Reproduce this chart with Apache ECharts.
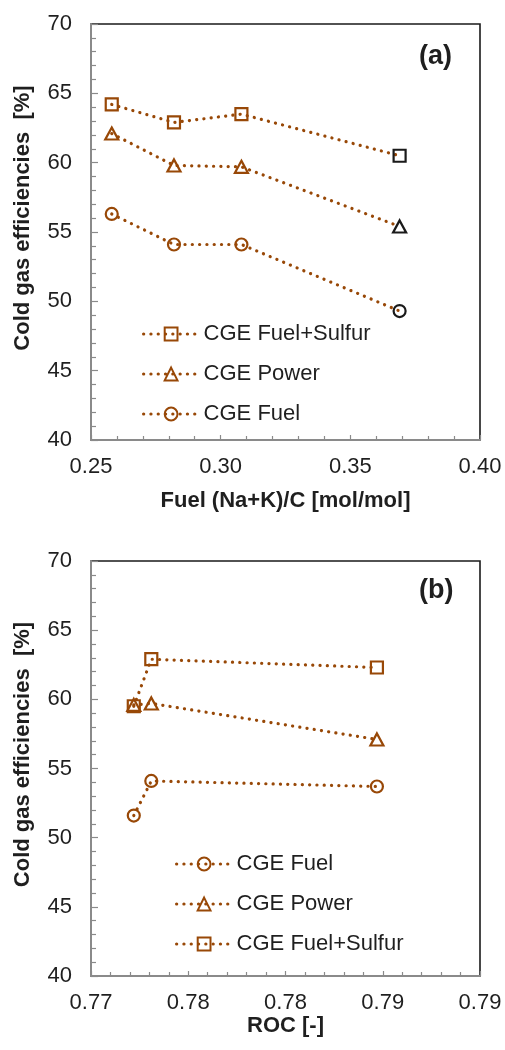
<!DOCTYPE html>
<html>
<head>
<meta charset="utf-8">
<script src="https://cdn.jsdelivr.net/npm/echarts@6/dist/echarts.min.js"></script>
<style>
  html, body { margin: 0; padding: 0; background: #fff; }
  #chart { width: 505px; height: 1050px; }
</style>
</head>
<body>
<div id="chart"></div>
<script>
// Panel (a): cold gas efficiency vs fuel (Na+K)/C
const ratioNaKC = [0.258, 0.282, 0.308, 0.369];
const cgeFuelSulfurA = [64.2, 62.9, 63.5, 60.5];
const cgePowerA = [62.1, 59.8, 59.7, 55.4];
const cgeFuelA = [56.3, 54.1, 54.1, 49.3];
const ticksA = ['0.25', '0.30', '0.35', '0.40'];

// Panel (b): cold gas efficiency vs ROC
const roc = [0.7722, 0.7731, 0.7847];
const cgeFuelB = [51.6, 54.1, 53.7];
const cgePowerB = [59.6, 59.7, 57.1];
const cgeFuelSulfurB = [59.5, 62.9, 62.3];
const ticksB = ['0.77', '0.78', '0.78', '0.79', '0.79'];

const yTicks = ['40', '45', '50', '55', '60', '65', '70'];

const BROWN = '#984807';
const FONT = '"Liberation Sans", Arial, sans-serif';
const TXT = '#1f1f1f';
const AXIS_GREY = '#8a8a8a';
const DOTTED = { color: BROWN, width: 3.2, type: [0.1, 7.2], cap: 'round' };

const symbols = {
  'CGE Fuel+Sulfur': { symbol: 'rect', size: 12 },
  'CGE Power': { symbol: 'triangle', size: [13, 12] },
  'CGE Fuel': { symbol: 'circle', size: 12 }
};

function pairs(xs, ys) { return xs.map((x, i) => [x, ys[i]]); }

function makeSeries(name, xs, ys, gridIdx, blackLast) {
  const s = symbols[name];
  const data = pairs(xs, ys).map((p, i) => {
    if (blackLast && i === xs.length - 1) {
      return { value: p, itemStyle: { borderColor: '#1a1a1a' } };
    }
    return { value: p };
  });
  return {
    name: name,
    type: 'line',
    xAxisIndex: gridIdx,
    yAxisIndex: gridIdx,
    data: data,
    symbol: s.symbol,
    symbolSize: s.size,
    showAllSymbol: true,
    animation: false,
    lineStyle: DOTTED,
    itemStyle: { color: 'rgba(0,0,0,0)', borderColor: BROWN, borderWidth: 2.2 },
    emphasis: { disabled: true }
  };
}

function xAxisDef(gridIdx, min, max, interval, labels, name, nameGap) {
  return {
    type: 'value',
    gridIndex: gridIdx,
    min: min, max: max, interval: interval,
    name: name,
    nameLocation: 'middle',
    nameGap: nameGap,
    nameTextStyle: { fontFamily: FONT, fontSize: 22, fontWeight: 'bold', color: TXT },
    axisLine: { show: true, onZero: false, lineStyle: { color: AXIS_GREY, width: 2 } },
    axisTick: { show: true, inside: true, length: 5, lineStyle: { color: AXIS_GREY, width: 1.2 } },
    minorTick: { show: true, splitNumber: 5, length: 4, lineStyle: { color: AXIS_GREY, width: 1.2 } },
    splitLine: { show: false },
    axisLabel: {
      fontFamily: FONT, fontSize: 22, color: TXT, margin: 16,
      formatter: v => labels[Math.round((v - min) / interval)]
    }
  };
}

function yAxisDef(gridIdx) {
  return {
    type: 'value',
    gridIndex: gridIdx,
    min: 40, max: 70, interval: 5,
    name: 'Cold gas efficiencies  [%]',
    nameLocation: 'middle',
    nameGap: 57,
    nameRotate: 90,
    nameTextStyle: { fontFamily: FONT, fontSize: 22, fontWeight: 'bold', color: TXT, padding: [0, 0, 0, 28] },
    axisLine: { show: true, lineStyle: { color: AXIS_GREY, width: 2 } },
    axisTick: { show: true, inside: true, length: 7, lineStyle: { color: AXIS_GREY, width: 1.2 } },
    minorTick: { show: true, splitNumber: 5, length: 5, lineStyle: { color: AXIS_GREY, width: 1.2 } },
    splitLine: { show: false },
    axisLabel: {
      fontFamily: FONT, fontSize: 22, color: TXT, margin: 19,
      formatter: v => yTicks[Math.round((v - 40) / 5)]
    }
  };
}

function legendDef(names, left, top) {
  return {
    orient: 'vertical',
    left: left,
    top: top,
    data: names,
    itemWidth: 55,
    itemHeight: 16,
    itemGap: 18,
    selectedMode: false,
    lineStyle: DOTTED,
    textStyle: { fontFamily: FONT, fontSize: 22, color: TXT, lineHeight: 22 }
  };
}

const chart = echarts.init(document.getElementById('chart'), null, { renderer: 'canvas' });
chart.setOption({
  backgroundColor: '#fff',
  animation: false,
  title: [
    { text: '(a)', left: 414, top: 38, textStyle: { fontFamily: FONT, fontSize: 27, fontWeight: 'bold', color: TXT } },
    { text: '(b)', left: 414, top: 572, textStyle: { fontFamily: FONT, fontSize: 27, fontWeight: 'bold', color: TXT } }
  ],
  grid: [
    { left: 91, right: 25, top: 24, bottom: 610, show: true, borderColor: '#1a1a1a', borderWidth: 1.6, backgroundColor: 'transparent' },
    { left: 91, right: 25, top: 561, bottom: 74, show: true, borderColor: '#1a1a1a', borderWidth: 1.6, backgroundColor: 'transparent' }
  ],
  xAxis: [
    xAxisDef(0, 0.25, 0.40, 0.05, ticksA, 'Fuel (Na+K)/C [mol/mol]', 50),
    xAxisDef(1, 0.77, 0.79, 0.005, ticksB, 'ROC [-]', 31)
  ],
  yAxis: [yAxisDef(0), yAxisDef(1)],
  legend: [
    legendDef(['CGE Fuel+Sulfur', 'CGE Power', 'CGE Fuel'], 137, 318),
    legendDef(['CGE Fuel', 'CGE Power', 'CGE Fuel+Sulfur'], 170, 848)
  ],
  series: [
    makeSeries('CGE Fuel+Sulfur', ratioNaKC, cgeFuelSulfurA, 0, true),
    makeSeries('CGE Power', ratioNaKC, cgePowerA, 0, true),
    makeSeries('CGE Fuel', ratioNaKC, cgeFuelA, 0, true),
    makeSeries('CGE Fuel', roc, cgeFuelB, 1, false),
    makeSeries('CGE Power', roc, cgePowerB, 1, false),
    makeSeries('CGE Fuel+Sulfur', roc, cgeFuelSulfurB, 1, false)
  ]
});
</script>
</body>
</html>
